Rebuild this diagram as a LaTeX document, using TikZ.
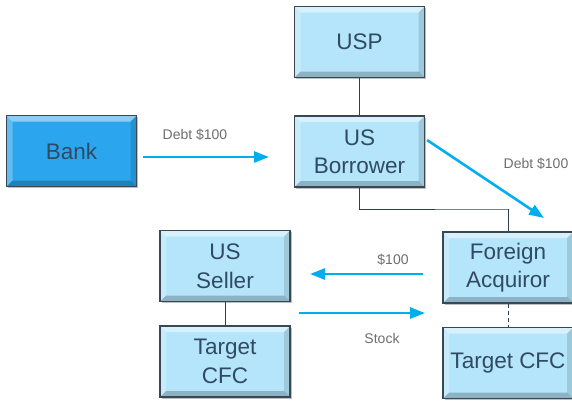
\documentclass[tikz,border=0pt]{standalone}
\usepackage{fontspec}
\setmainfont{Liberation Sans}
\usetikzlibrary{arrows.meta,calc,shadows}
\definecolor{lightfill}{HTML}{B5E5FA}
\definecolor{bankfill}{HTML}{2BA6EE}
\definecolor{edge}{HTML}{3B4754}
\definecolor{boxtext}{HTML}{2F4A63}
\definecolor{arrowblue}{HTML}{00AEEF}
\definecolor{labelgray}{HTML}{6E6E6E}
\definecolor{conn}{HTML}{2E3E4E}
\tikzset{
 bevel/.style={path picture={
   \def\bb{path picture bounding box}
   \fill[white,opacity=.45] (\bb.north west) -- (\bb.north east) -- ([xshift=-6pt,yshift=-6pt]\bb.north east) -- ([xshift=6pt,yshift=-6pt]\bb.north west) -- cycle;
   \fill[white,opacity=.25] (\bb.north west) -- ([xshift=6pt,yshift=-6pt]\bb.north west) -- ([xshift=6pt,yshift=6pt]\bb.south west) -- (\bb.south west) -- cycle;
   \fill[black,opacity=.22] (\bb.south west) -- (\bb.south east) -- ([xshift=-6pt,yshift=6pt]\bb.south east) -- ([xshift=6pt,yshift=6pt]\bb.south west) -- cycle;
   \fill[black,opacity=.12] (\bb.north east) -- ([xshift=-6pt,yshift=-6pt]\bb.north east) -- ([xshift=-6pt,yshift=6pt]\bb.south east) -- (\bb.south east) -- cycle;
 }},
 entity/.style={draw=edge, line width=1.4pt, fill=lightfill, bevel, text=boxtext,
   font=\fontsize{22.5}{28.5}\selectfont, align=center, minimum width=130pt,
   minimum height=71pt, inner sep=0pt,
   drop shadow={shadow xshift=1.5pt, shadow yshift=-1.5pt, opacity=.5}},
 bankbox/.style={entity, fill=bankfill},
 flow/.style={draw=arrowblue, line width=2.6pt, -{Triangle[length=15pt,width=11pt]}},
 link/.style={draw=conn, line width=1pt},
 lbl/.style={text=labelgray, font=\fontsize{14}{16}\selectfont, inner sep=0pt}
}
\begin{document}
\begin{tikzpicture}[x=1pt,y=-1pt]
\useasboundingbox (0,0) rectangle (572,400);
% nodes
\node[bankbox] (bank) at (71.5,151) {Bank};
\node[entity] (usp) at (359.5,42) {USP};
\node[entity] (borrower) at (359.5,151.5) {US\\Borrower};
\node[entity] (seller) at (225,266) {US\\Seller};
\node[entity] (targetL) at (225,361.5) {Target\\CFC};
\node[entity] (foreign) at (508,267.5) {Foreign\\Acquiror};
\node[entity] (targetR) at (508,363) {Target CFC};
% connectors
\draw[link] (usp.south) -- (borrower.north);
\draw[link] (borrower.south) |- (509,209) -| (foreign.north);
\draw[link] (seller.south) -- (targetL.north);
\draw[link, dashed, dash pattern=on 4pt off 3pt] (foreign.south) -- (targetR.north);
% flow arrows
\coordinate (a1s) at (143,157); \coordinate (a1e) at (269,157);
\coordinate (a2s) at (427,140); \coordinate (a2e) at (544,218);
\coordinate (a3s) at (423,274); \coordinate (a3e) at (310,274);
\coordinate (a4s) at (299,313); \coordinate (a4e) at (425,313);
\draw[flow] (a1s) -- (a1e);
\draw[flow] (a2s) -- (a2e);
\draw[flow] (a3s) -- (a3e);
\draw[flow] (a4s) -- (a4e);
% labels
\node[lbl] (l1) at (195,135) {Debt \$100};
\node[lbl] (l2) at (536,164) {Debt \$100};
\node[lbl] (l3) at (393,260) {\$100};
\node[lbl] (l4) at (382,338) {Stock};
\end{tikzpicture}
\end{document}
